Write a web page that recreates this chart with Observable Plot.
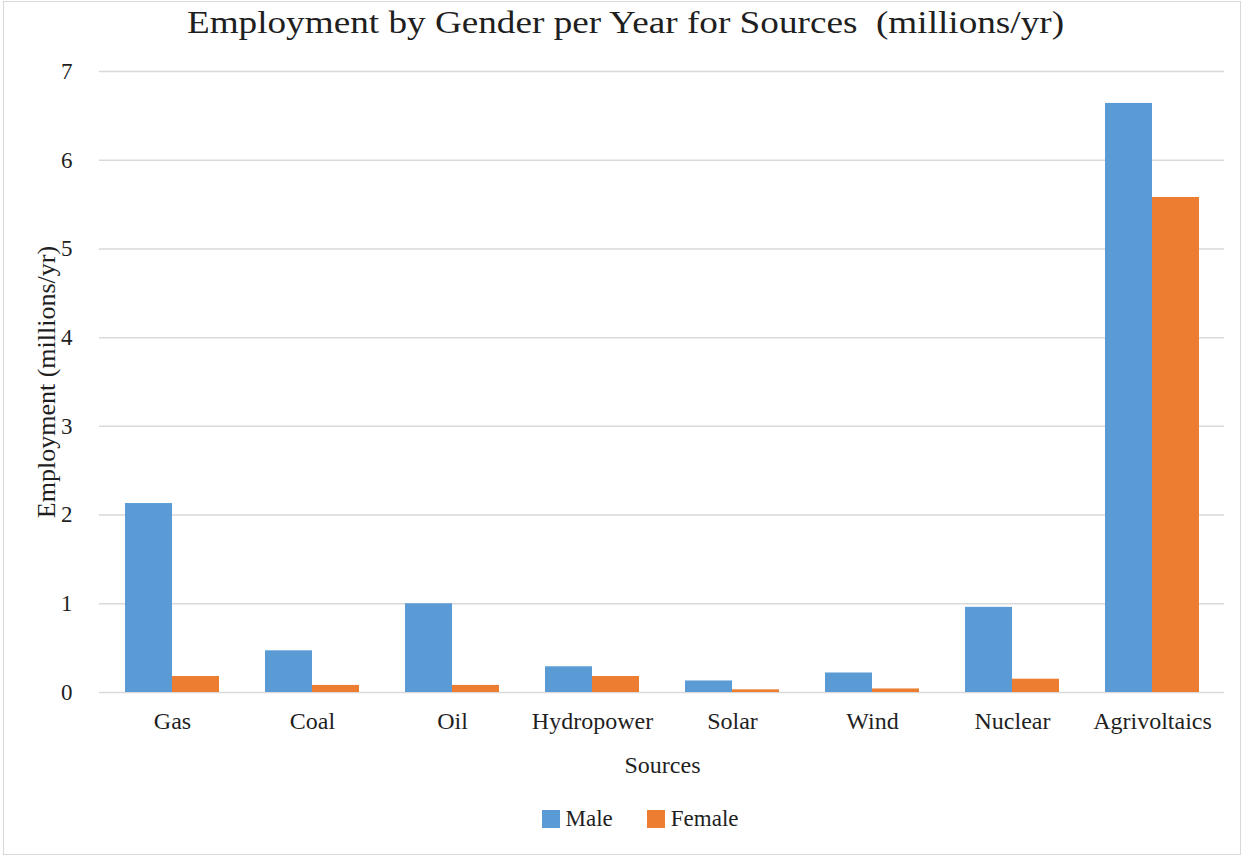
<!DOCTYPE html>
<html>
<head>
<meta charset="utf-8">
<script src="https://cdn.jsdelivr.net/npm/d3@7"></script>
<script src="https://cdn.jsdelivr.net/npm/@observablehq/plot@0.6"></script>
<style>
  html, body { margin: 0; padding: 0; background: #fff; }
  #wrap { position: relative; width: 1250px; height: 857px; font-family: "Liberation Serif", "Times New Roman", serif; color: #1f1f1f; }
  #frame { position: absolute; left: 3px; top: 1px; width: 1238px; height: 854px; border: 1px solid #d9d9d9; box-sizing: border-box; pointer-events: none; }
  #title { height: 50px; width: 1250px; text-align: center; font-size: 31px; line-height: 1; padding-top: 7px; box-sizing: border-box; white-space: pre; }
  #title span { display: inline-block; transform: scaleX(1.2); transform-origin: center; }
  #chart { position: relative; width: 1250px; height: 740px; }
  #chart svg { display: block; position: absolute; left: 0; top: 0; }
  #legend { display: flex; justify-content: center; align-items: center; width: 1250px; padding-left: 30px; box-sizing: border-box; font-size: 23px; margin-top: 16px; }
  .item { display: flex; align-items: center; margin: 0 17px; }
  .sw { width: 18px; height: 18px; margin-right: 6px; }
</style>
</head>
<body>
<div id="wrap">
  <div id="title"><span>Employment by Gender per Year for Sources  (millions/yr)</span></div>
  <div id="chart"></div>
  <div id="legend"></div>
  <div id="frame"></div>
</div>
<script>
const categories = ["Gas", "Coal", "Oil", "Hydropower", "Solar", "Wind", "Nuclear", "Agrivoltaics"];
const genders = ["Male", "Female"];
const maleValues = [2.13, 0.47, 1.00, 0.29, 0.13, 0.22, 0.96, 6.64];
const femaleValues = [0.18, 0.08, 0.08, 0.18, 0.03, 0.04, 0.15, 5.58];
const yTicks = [0, 1, 2, 3, 4, 5, 6, 7];
const colors = ["#5b9bd5", "#ed7d31"];

const rows = [];
categories.forEach((c, i) => {
  rows.push({source: c, gender: "Male", value: maleValues[i]});
  rows.push({source: c, gender: "Female", value: femaleValues[i]});
});

const font = "'Liberation Serif', 'Times New Roman', serif";
const layout = {width: 1250, height: 740, marginTop: 21, marginBottom: 98, marginLeft: 99, marginRight: 26};

// background layer: gridlines + y axis (continuous across the whole plot width)
const back = Plot.plot({
  ...layout,
  style: {fontFamily: font, color: "#1f1f1f", background: "transparent"},
  x: {axis: null},
  y: {domain: [0, 7], label: null},
  marks: [
    Plot.ruleY(yTicks, {stroke: "#d9d9d9", strokeWidth: 1.5}),
    Plot.axisY(yTicks, {
      tickSize: 0, tickPadding: 27, fontSize: 23,
      label: "Employment (millions/yr)", labelArrow: "none", labelAnchor: "center", labelOffset: 63,
      tickFormat: d => String(d)
    })
  ]
});

// foreground layer: grouped bars faceted by source
const front = Plot.plot({
  ...layout,
  style: {fontFamily: font, color: "#1f1f1f", background: "transparent"},
  fx: {domain: categories, paddingInner: 0.33, paddingOuter: 0.165, label: null},
  x: {domain: genders, padding: 0, axis: null},
  y: {domain: [0, 7], axis: null},
  color: {domain: genders, range: colors},
  marks: [
    Plot.barY(rows, {fx: "source", x: "gender", y: "value", fill: "gender"}),
    Plot.axisFx({
      anchor: "bottom", tickSize: 0, tickPadding: 19, fontSize: 24,
      label: "Sources", labelArrow: "none", labelAnchor: "center", labelOffset: 80
    })
  ]
});
const el = document.getElementById("chart");
el.appendChild(back);
el.appendChild(front);

// the y-axis title is a little larger than the tick labels
back.querySelectorAll("text").forEach(t => {
  if (t.textContent === "Employment (millions/yr)") t.setAttribute("font-size", 26);
});

const legend = document.getElementById("legend");
genders.forEach((g, i) => {
  const it = document.createElement("div");
  it.className = "item";
  const sw = document.createElement("div");
  sw.className = "sw";
  sw.style.background = colors[i];
  const t = document.createElement("span");
  t.textContent = g;
  it.appendChild(sw);
  it.appendChild(t);
  legend.appendChild(it);
});
</script>
</body>
</html>
